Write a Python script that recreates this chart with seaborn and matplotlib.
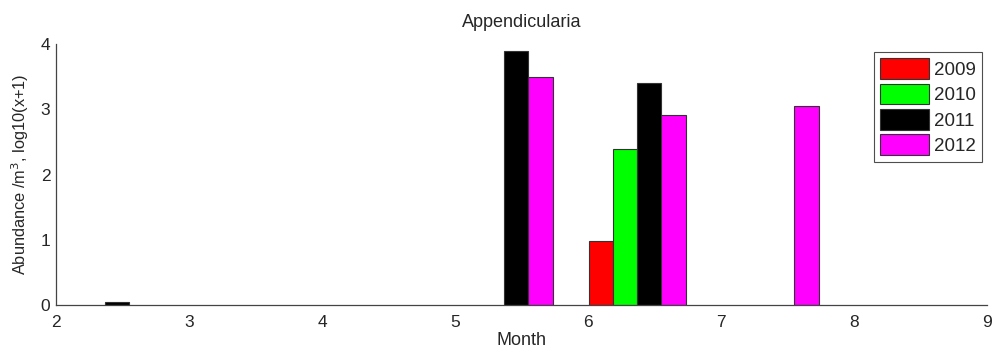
import pandas as pd
import numpy as np
import matplotlib
matplotlib.use('Agg')
import matplotlib.pyplot as plt
import seaborn as sns

# Month positions (sampling dates as decimal months) and abundance per year
months = [2.37, 5.37, 6.37, 7.37]
years = ['2009', '2010', '2011', '2012']
vals_2009 = [0.0, 0.0, 0.98, 0.0]
vals_2010 = [0.0, 0.0, 2.39, 0.0]
vals_2011 = [0.04, 3.89, 3.40, 0.0]
vals_2012 = [0.0, 3.49, 2.91, 3.05]
colors = ['#ff0000', '#00ff00', '#000000', '#ff00ff']

# Long format table for seaborn
rows = []
for yr, vals in zip(years, [vals_2009, vals_2010, vals_2011, vals_2012]):
    for m, v in zip(months, vals):
        if v > 0:
            rows.append({'Month': m, 'Year': yr, 'Value': v})
df = pd.DataFrame(rows)

sns.set_style('white')
plt.rcParams['font.family'] = ['Liberation Sans', 'DejaVu Sans']

fig = plt.figure(figsize=(9.93, 3.53), dpi=100)
ax = fig.add_axes([0.0564, 0.136, 0.9376, 0.739])

sns.barplot(data=df, x='Month', y='Value', hue='Year', hue_order=years,
            palette=colors, saturation=1, native_scale=True, dodge=True,
            width=0.727, errorbar=None, edgecolor='#333333', linewidth=0.8,
            ax=ax)

ax.set_xlim(2, 9)
ax.set_ylim(0, 4)
ax.set_xticks(range(2, 10))
ax.set_xticklabels([str(i) for i in range(2, 10)])
ax.set_yticks(range(0, 5))
ax.set_yticklabels([str(i) for i in range(0, 5)])
ax.tick_params(direction='in', length=5, width=0.8, labelsize=12.5, color='#444444')
ax.tick_params(axis='x', pad=7)
ax.tick_params(axis='y', pad=4)
for s in ['top', 'right']:
    ax.spines[s].set_visible(False)
for s in ['left', 'bottom']:
    ax.spines[s].set_color('#444444')
    ax.spines[s].set_linewidth(0.9)

ax.set_xlabel('Month', fontsize=13, labelpad=2)
ax.set_ylabel('Abundance /m$^3$, log10(x+1)', fontsize=11.8, labelpad=7)
ax.set_title('Appendicularia', fontsize=13, pad=12)

leg = ax.legend(loc='upper right', bbox_to_anchor=(0.999, 0.985), fontsize=13.5,
                frameon=True, fancybox=False, edgecolor='#222222',
                handlelength=2.6, handleheight=1.3, handletextpad=0.25,
                labelspacing=0.26, borderpad=0.35, borderaxespad=0.2)
leg.get_frame().set_linewidth(0.8)
for h in leg.legend_handles:
    h.set_edgecolor('#333333')

fig.savefig('out.png', dpi=100)
